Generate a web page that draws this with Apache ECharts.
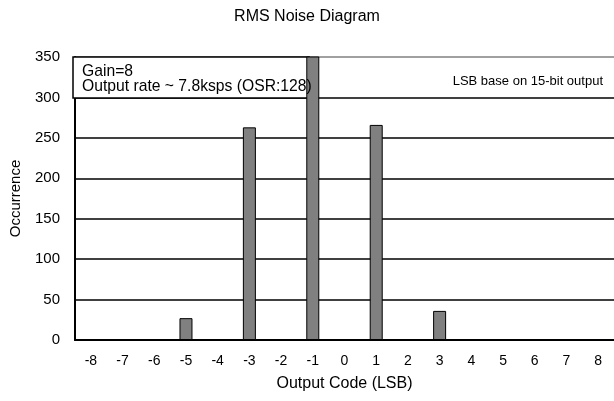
<!DOCTYPE html>
<html>
<head>
<meta charset="utf-8">
<script src="https://cdn.jsdelivr.net/npm/echarts@6/dist/echarts.min.js"></script>
<style>
    html, body { margin: 0; padding: 0; background: #fff; }
    #chart { width: 614px; height: 401px; }
</style>
</head>
<body>
<div id="chart"></div>
<script>
    // output codes (LSB)
    var codes = ['-8', '-7', '-6', '-5', '-4', '-3', '-2', '-1', '0', '1', '2', '3', '4', '5', '6', '7', '8'];
    // occurrence per code, -1 goes past the top of the axis
    var occurrence = [0, 0, 0, 27, 0, 263, 0, 432, 0, 266, 0, 36, 0, 0, 0, 0, 0];
    var yTicks = [0, 50, 100, 150, 200, 250, 300, 350];

    var font = 'Liberation Sans, Arial, sans-serif';
    var chart = echarts.init(document.getElementById('chart'));

    chart.setOption({
        animation: false,
        title: {
            text: 'RMS Noise Diagram',
            left: 'center',
            top: 4,
            textStyle: { fontFamily: font, fontSize: 16, fontWeight: 'normal', color: '#000' }
        },
        grid: { left: 73, right: -3, top: 57, bottom: 61 },
        xAxis: {
            type: 'category',
            data: codes,
            name: 'Output Code (LSB)',
            nameLocation: 'middle',
            nameGap: 36,
            nameTextStyle: { fontFamily: font, fontSize: 16, color: '#000' },
            axisLine: { lineStyle: { color: '#000', width: 2 } },
            axisTick: { inside: true, length: 5, lineStyle: { color: '#000', width: 1.5 } },
            axisLabel: { fontFamily: font, fontSize: 14, color: '#000', margin: 14 }
        },
        yAxis: {
            type: 'value',
            min: yTicks[0],
            max: yTicks[yTicks.length - 1],
            interval: 50,
            name: 'Occurrence',
            nameLocation: 'middle',
            nameGap: 52,
            nameTextStyle: { fontFamily: font, fontSize: 15, color: '#000' },
            axisLine: { show: true, lineStyle: { color: '#000', width: 2 } },
            axisTick: { show: false },
            axisLabel: { fontFamily: font, fontSize: 15, color: '#000', margin: 15, padding: [4, 0, 0, 0] },
            splitLine: {
                lineStyle: {
                    color: ['#000', '#000', '#000', '#000', '#000', '#000', '#000', '#808080'],
                    width: 1.5
                }
            }
        },
        series: [{
            type: 'bar',
            data: occurrence,
            barWidth: 13,
            clip: true,
            itemStyle: { color: '#808080', borderColor: '#000', borderWidth: 1 }
        }],
        graphic: [
            {
                type: 'rect',
                z: 1,
                shape: { x: 73, y: 57, width: 236, height: 41 },
                style: { fill: '#fff', stroke: '#000', lineWidth: 1.5 }
            },
            {
                type: 'text',
                z: 10,
                x: 82,
                y: 64,
                style: {
                    text: 'Gain=8\nOutput rate ~ 7.8ksps (OSR:128)',
                    font: '15.7px ' + font,
                    lineHeight: 15,
                    fill: '#000'
                }
            },
            {
                type: 'text',
                z: 10,
                x: 603,
                y: 75,
                style: {
                    text: 'LSB base on 15-bit output',
                    font: '13px ' + font,
                    textAlign: 'right',
                    fill: '#000'
                }
            }
        ]
    });
</script>
</body>
</html>
